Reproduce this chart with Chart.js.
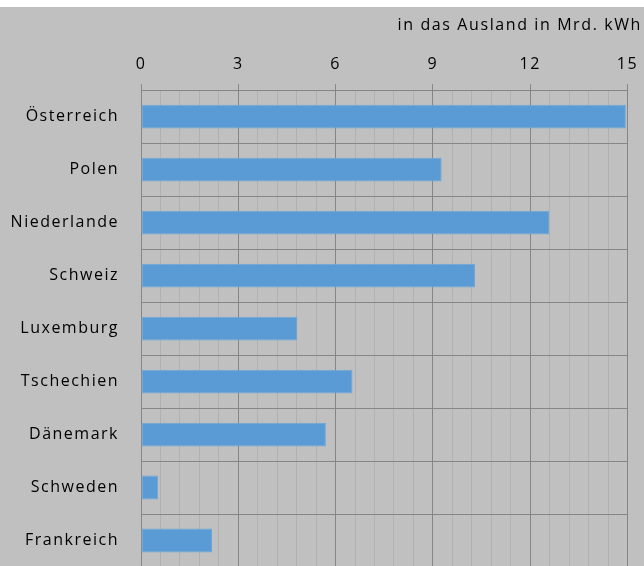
<!DOCTYPE html>
<html>
<head>
<meta charset="utf-8">
<script src="https://cdn.jsdelivr.net/npm/chart.js@4.4.1/dist/chart.umd.min.js"></script>
<style>
  html, body { margin: 0; padding: 0; background: #fff; overflow: hidden; }
  #wrap { position: absolute; left: 0; top: 7px; width: 644px; height: 566px; background: #c0c0c0; }
</style>
</head>
<body>
<div id="wrap"><canvas id="exportChart" width="644" height="566"></canvas></div>
<script>
const countries = ["Österreich", "Polen", "Niederlande", "Schweiz", "Luxemburg", "Tschechien", "Dänemark", "Schweden", "Frankreich"];
const exportValues = [14.95, 9.27, 12.58, 10.3, 4.82, 6.52, 5.7, 0.53, 2.19];
const xMin = 0;
const xMax = 15;
const majorStep = 3;
const minorStep = 0.6;
const unitTitle = "in das Ausland in Mrd. kWh";

const fontName = "'Open Sans', sans-serif";
const majorGrid = "#868686";
const minorGrid = "#b1b1b1";

function isMajor(v) {
    let q = v / majorStep;
    return Math.abs(q - Math.round(q)) < 1e-6;
}

// draws the unit text in the top right corner
const unitText = {
    id: "unitText",
    afterDraw(chart) {
        const ctx = chart.ctx;
        ctx.save();
        ctx.letterSpacing = "1.6px";
        ctx.font = "16px " + fontName;
        ctx.fillStyle = "#000";
        ctx.textAlign = "right";
        ctx.textBaseline = "middle";
        ctx.fillText(unitTitle, chart.width - 2, 18);
        ctx.restore();
    }
};

const spacing = {
    id: "spacing",
    beforeUpdate(chart) { chart.ctx.letterSpacing = "1.5px"; },
    beforeDraw(chart) { chart.ctx.letterSpacing = "1.5px"; }
};

new Chart("exportChart", {
    type: "bar",
    data: {
        labels: countries,
        datasets: [{
            data: exportValues,
            backgroundColor: "#5b9bd5",
            borderColor: "#6ea6d9",
            borderWidth: 1,
            borderSkipped: false,
            barPercentage: 0.45,
            categoryPercentage: 1
        }]
    },
    plugins: [spacing, unitText],
    options: {
        indexAxis: "y",
        responsive: false,
        animation: false,
        layout: { padding: { top: 38, left: 8, right: 16.5, bottom: 6 } },
        plugins: {
            legend: { display: false },
            tooltip: { enabled: false },
            title: { display: false }
        },
        scales: {
            x: {
                position: "top",
                min: xMin,
                max: xMax,
                afterFit: (s) => { s.paddingLeft = 0; s.paddingRight = 0; },
                ticks: {
                    stepSize: minorStep,
                    autoSkip: false,
                    maxRotation: 0,
                    padding: 10,
                    color: "#000",
                    font: { family: fontName, size: 16 },
                    callback: (v) => isMajor(v) ? Math.round(v) : ""
                },
                grid: {
                    color: (c) => isMajor(c.tick.value) ? majorGrid : minorGrid,
                    tickColor: (c) => isMajor(c.tick.value) ? majorGrid : "rgba(0,0,0,0)",
                    tickLength: 6,
                    lineWidth: 1
                },
                border: { display: true, color: majorGrid, width: 1 }
            },
            y: {
                afterFit: (s) => { s.width = 133; s.paddingTop = 0; s.paddingBottom = 0; },
                ticks: {
                    padding: 22,
                    color: "#000",
                    font: { family: fontName, size: 16 }
                },
                grid: {
                    color: majorGrid,
                    drawTicks: false,
                    offset: true,
                    lineWidth: 1
                },
                border: { display: true, color: majorGrid, width: 1 }
            }
        }
    }
});
</script>
</body>
</html>
